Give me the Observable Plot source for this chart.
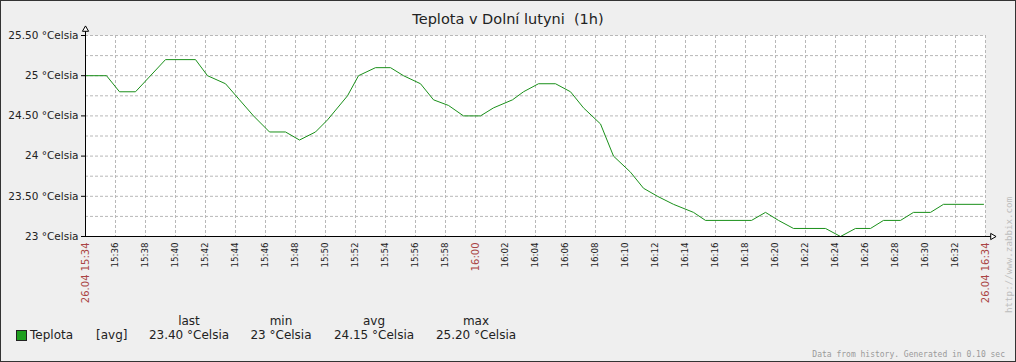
<!DOCTYPE html>
<html><head><meta charset="utf-8">
<script src="https://cdn.jsdelivr.net/npm/d3@7"></script>
<script src="https://cdn.jsdelivr.net/npm/@observablehq/plot@0.6"></script>
<style>
body{margin:0;background:#fff;}
#wrap{position:relative;width:1016px;height:362px;background:#efefef;overflow:hidden;font-family:"DejaVu Sans",sans-serif;color:#222;}
#wrap > svg{position:absolute;left:0;top:0;}
.abs{position:absolute;white-space:pre;}
#border{position:absolute;left:0;top:0;width:1016px;height:362px;box-sizing:border-box;border:1px solid #333;pointer-events:none;}
#title{left:0;width:1016px;top:11px;text-align:center;font-size:14.5px;line-height:17px;}
.lg{font-size:12px;line-height:14px;}
.col{width:120px;text-align:center;}
#foot{right:11px;top:350px;font-family:"DejaVu Sans Mono",monospace;font-size:8px;line-height:9px;color:#9a9a9a;}
#zbx{left:1004px;top:313px;transform:rotate(-90deg);transform-origin:left top;font-family:"DejaVu Sans Mono",monospace;font-size:9.2px;line-height:10px;color:#bdbdbd;}
#sq{left:16px;top:330px;width:9px;height:9px;background:#1f9f1f;border:1px solid #222;}
</style></head>
<body>
<div id="wrap">
  <div id="chart"></div>
  <div class="abs" id="title"></div>
  <div class="abs" id="sq"></div>
  <div class="abs lg" id="lgName" style="left:30px;top:328px;"></div>
  <div class="abs lg" id="lgFn" style="left:96px;top:328px;"></div>
  <div id="cols"></div>
  <div class="abs" id="foot"></div>
  <div class="abs" id="zbx"></div>
  <div id="border"></div>
</div>
<script>
// ---- data ----
const sampleTimes = ["15:34:00","15:35:24","15:36:16","15:37:20","15:39:20","15:41:20","15:42:08","15:43:20","15:44:16","15:45:12",
  "15:46:16","15:47:20","15:48:16","15:49:20","15:50:08","15:51:28","15:52:12","15:53:20","15:54:20","15:55:12",
  "15:56:20","15:57:12","15:58:12","15:59:12","16:00:20","16:01:12","16:02:28","16:03:12","16:04:12","16:05:20",
  "16:06:20","16:07:12","16:08:20","16:09:12","16:10:20","16:11:12","16:12:08","16:13:12","16:14:32","16:15:20",
  "16:18:24","16:19:20","16:20:12","16:21:12","16:23:20","16:24:20","16:25:20","16:26:20","16:27:12","16:28:20",
  "16:29:12","16:30:20","16:31:12","16:33:52"];
const sampleTemps = [25.0,25.0,24.8,24.8,25.2,25.2,25.0,24.9,24.7,24.5,
  24.3,24.3,24.2,24.3,24.45,24.75,25.0,25.1,25.1,25.0,
  24.9,24.7,24.63,24.5,24.5,24.6,24.7,24.8,24.9,24.9,
  24.8,24.6,24.4,24.0,23.8,23.6,23.5,23.4,23.3,23.2,
  23.2,23.3,23.2,23.1,23.1,23.0,23.1,23.1,23.2,23.2,
  23.3,23.3,23.4,23.4];
const xDomainTimes = ["15:34:00","16:34:00"];
const yDomain = [23, 25.5];
const yTicks = [23, 23.5, 24, 24.5, 25, 25.5];
const yTickLabels = ["23 °Celsia","23.50 °Celsia","24 °Celsia","24.50 °Celsia","25 °Celsia","25.50 °Celsia"];
const yGridTicks = [23.25,23.5,23.75,24,24.25,24.5,24.75,25,25.25,25.5];
const blackTickLabels = ["15:36","15:38","15:40","15:42","15:44","15:46","15:48","15:50","15:52","15:54","15:56","15:58",
  "16:02","16:04","16:06","16:08","16:10","16:12","16:14","16:16","16:18","16:20","16:22","16:24","16:26","16:28","16:30","16:32"];
const redTickTimes = ["15:34","16:00","16:34"];
const redTickLabels = ["26.04 15:34","16:00","26.04 16:34"];
const titleText = "Teplota v Dolní lutyni  (1h)";
const seriesName = "Teplota";
const seriesFn = "[avg]";
const statHeaders = ["last","min","avg","max"];
const statValues = ["23.40 °Celsia","23 °Celsia","24.15 °Celsia","25.20 °Celsia"];
const footText = "Data from history. Generated in 0.10 sec";
const sideText = "http://www.zabbix.com";

// ---- build ----
const pT = d3.utcParse("%H:%M:%S");
const pM = d3.utcParse("%H:%M");
const data = sampleTimes.map((t, i) => ({t: pT(t), v: sampleTemps[i]}));
const xDomain = xDomainTimes.map(pT);
const blackTicks = blackTickLabels.map(pM);
const redTicks = redTickTimes.map(pM);
const gridTicks = [...blackTicks, ...redTicks].sort((a, b) => a - b);
const yLabelMap = new Map(yTicks.map((d, i) => [d, yTickLabels[i]]));
const redLabelMap = new Map(redTicks.map((d, i) => [+d, redTickLabels[i]]));
const fmt = d3.utcFormat("%H:%M");

const chart = Plot.plot({
  width: 1016, height: 362,
  marginLeft: 85, marginRight: 31, marginTop: 35, marginBottom: 126,
  style: {background: "transparent", fontFamily: "DejaVu Sans, sans-serif", overflow: "visible"},
  x: {type: "utc", domain: xDomain},
  y: {domain: yDomain},
  marks: [
    Plot.frame({fill: "white", stroke: null}),
    Plot.gridY({ticks: yGridTicks, stroke: "#b8b8b8", strokeOpacity: 1, strokeDasharray: "3,2"}),
    Plot.gridX({ticks: gridTicks, stroke: "#b8b8b8", strokeOpacity: 1, strokeDasharray: "3,2"}),
    Plot.line(data, {x: "t", y: "v", stroke: "#1a901a", strokeWidth: 1}),
    Plot.ruleX([xDomain[0]], {stroke: "black", insetTop: -5}),
    Plot.ruleY([yDomain[0]], {stroke: "black", insetRight: -6}),
    Plot.dot([{x: xDomain[0], y: yDomain[1]}], {x: "x", y: "y", symbol: "triangle", r: 2.3, fill: "white", stroke: "black", strokeWidth: 1, dy: -6}),
    Plot.dot([{x: xDomain[1], y: yDomain[0]}], {x: "x", y: "y", symbol: "triangle", r: 2.3, rotate: 90, fill: "white", stroke: "black", strokeWidth: 1, dx: 7}),
    Plot.axisY({ticks: yTicks, tickFormat: d => yLabelMap.get(d), tickSize: 4, tickPadding: 3, fontSize: 10.5, fill: "#222", stroke: "black", label: null}),
    Plot.axisX({ticks: blackTicks, tickFormat: fmt, tickRotate: -90, tickSize: 0, tickPadding: 6, fontSize: 8.7, fill: "#222", label: null}),
    Plot.axisX({ticks: redTicks, tickFormat: d => redLabelMap.get(+d), tickRotate: -90, tickSize: 0, tickPadding: 6, fontSize: 10, fill: "#aa4444", label: null})
  ]
});
document.getElementById("chart").appendChild(chart);

document.getElementById("title").textContent = titleText;
document.getElementById("lgName").textContent = seriesName;
document.getElementById("lgFn").textContent = seriesFn;
document.getElementById("foot").textContent = footText;
document.getElementById("zbx").textContent = sideText;
const colCenters = [189, 281, 374, 476];
const cols = document.getElementById("cols");
statHeaders.forEach((h, i) => {
  const hd = document.createElement("div");
  hd.className = "abs lg col";
  hd.style.left = (colCenters[i] - 60) + "px";
  hd.style.top = "314px";
  hd.textContent = h;
  cols.appendChild(hd);
  const vd = document.createElement("div");
  vd.className = "abs lg col";
  vd.style.left = (colCenters[i] - 60) + "px";
  vd.style.top = "328px";
  vd.textContent = statValues[i];
  cols.appendChild(vd);
});
</script>
</body></html>
